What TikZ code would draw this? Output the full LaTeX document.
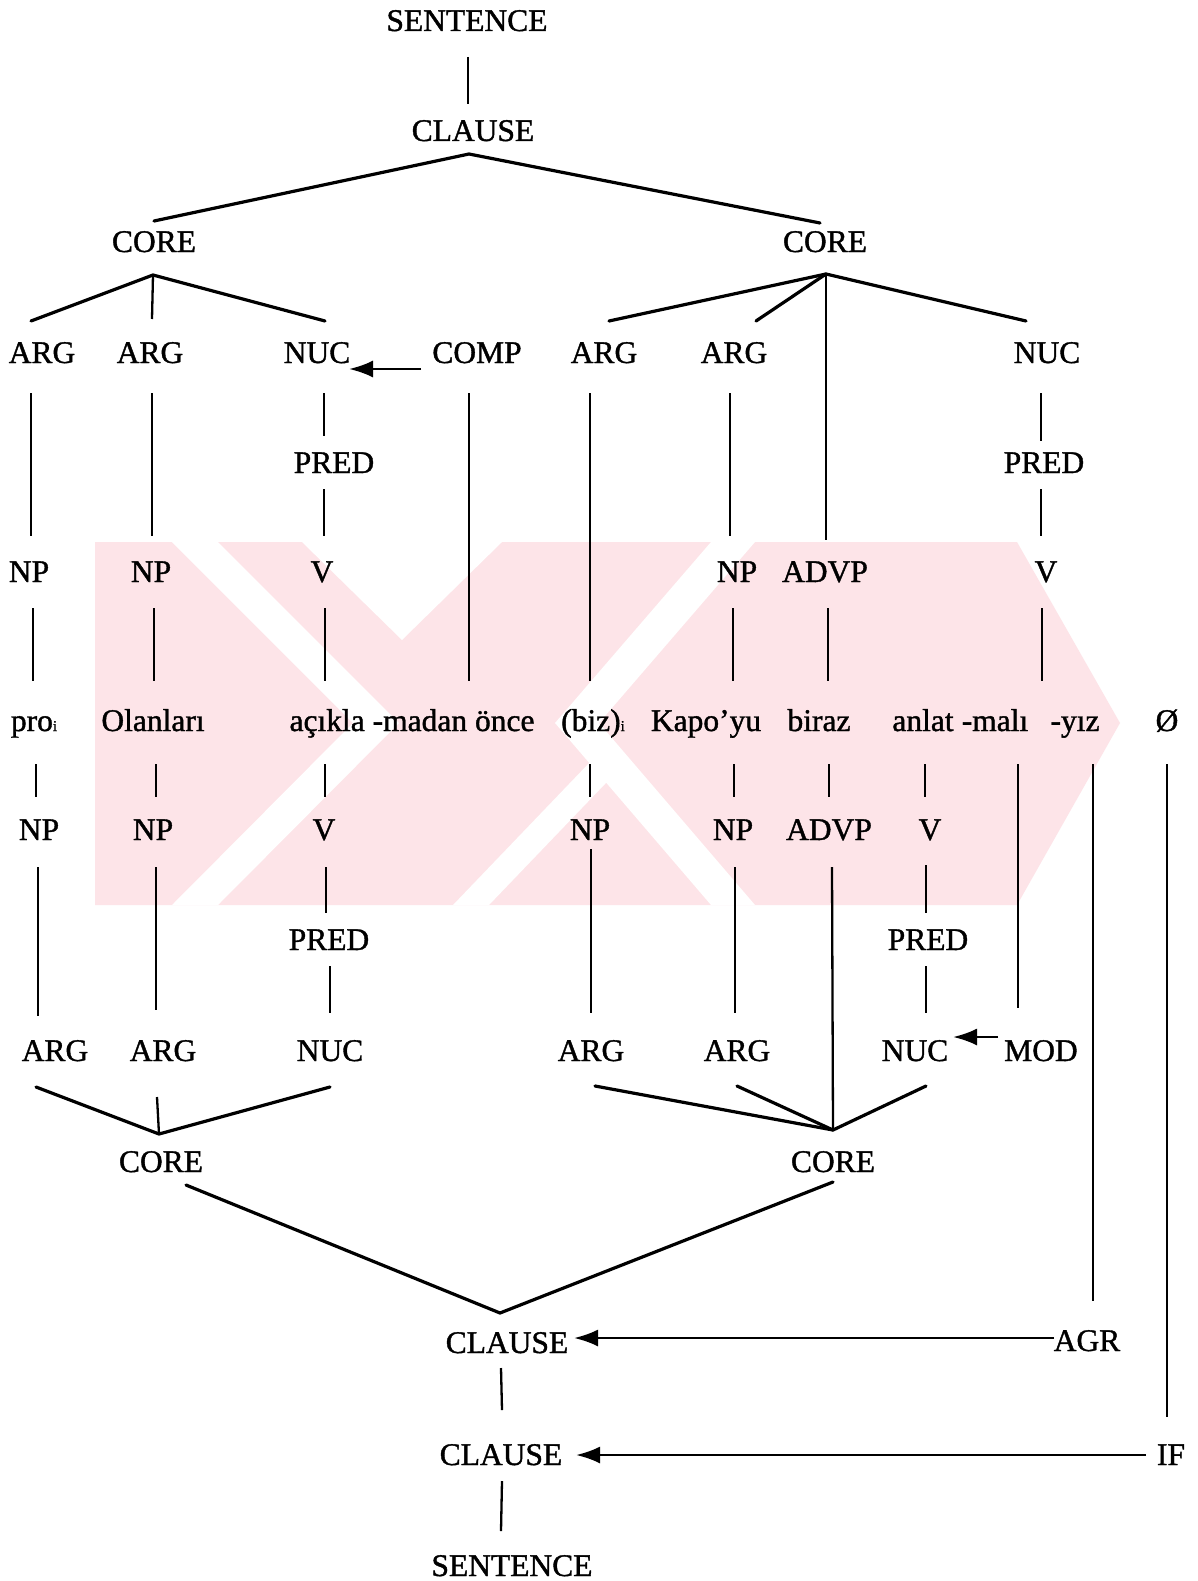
\documentclass[tikz,border=0pt]{standalone}
\usepackage{fontspec}
\setmainfont{Liberation Serif}
\usetikzlibrary{calc,arrows.meta}
\definecolor{wm}{RGB}{253,228,232}
\tikzset{
  lbl/.style={font=\fontsize{31.5}{36}\selectfont\addfontfeature{FakeBold=1.2}, inner sep=0pt, anchor=base},
  ln/.style={line width=2.3pt},
  br/.style={line width=3.2pt, line cap=round},
  arr/.style={line width=2.6pt, -{Latex[length=24pt,width=17pt]}},
}
\newcommand{\sbi}{{\fontsize{15}{15}\selectfont i}}
\begin{document}
\begin{tikzpicture}[x=1pt,y=-1pt]
\useasboundingbox (0,0) rectangle (1198,1581);
\fill[white] (0,0) rectangle (1198,1581);
% watermark
\fill[wm] (95,542) -- (1017,542) -- (1120,723) -- (1017,905) -- (95,905) -- cycle;
\fill[white] (172,542) -- (218,542) -- (399,723) -- (218,905) -- (172,905) -- (353,723) -- cycle;
\fill[white] (302,542) -- (502,542) -- (402,640) -- cycle;
\fill[white] (711,542) -- (755,542) -- (599,723) -- (755,905) -- (711,905) -- (555,723) -- cycle;
\fill[white] (453,905) -- (489,905) -- (628,760) -- (592,760) -- cycle;

% nodes
\node[lbl] (s1) at (467,31) {SENTENCE};
\node[lbl] (c1) at (473,141) {CLAUSE};
\node[lbl] (coreL) at (154,252) {CORE};
\node[lbl] (coreR) at (825,252) {CORE};
\node[lbl] (a1) at (42,363) {ARG};
\node[lbl] (a2) at (150,363) {ARG};
\node[lbl] (nucL) at (317,363) {NUC};
\node[lbl] (comp) at (477,363) {COMP};
\node[lbl] (a3) at (604,363) {ARG};
\node[lbl] (a4) at (734,363) {ARG};
\node[lbl] (nucR) at (1047,363) {NUC};
\node[lbl] (predL) at (334,473) {PRED};
\node[lbl] (predR) at (1044,473) {PRED};
\node[lbl] (np1) at (29,582) {NP};
\node[lbl] (np2) at (151,582) {NP};
\node[lbl] (v1) at (322,582) {V};
\node[lbl] (np3) at (737,582) {NP};
\node[lbl] (advp1) at (825,582) {ADVP};
\node[lbl] (v2) at (1046,582) {V};
\node[lbl] (pro) at (34,731) {pro\sbi};
\node[lbl] (olan) at (153,731) {Olanları};
\node[lbl] (acikla) at (412,731) {açıkla -madan önce};
\node[lbl] (biz) at (593,731) {(biz)\sbi};
\node[lbl] (kapo) at (706,731) {Kapo’yu};
\node[lbl] (biraz) at (819,731) {biraz};
\node[lbl] (anlat) at (923,731) {anlat};
\node[lbl] (mali) at (995,731) {-malı};
\node[lbl] (yiz) at (1075,731) {-yız};
\node[lbl] (null) at (1167,731) {Ø};
\node[lbl] (np4) at (39,840) {NP};
\node[lbl] (np5) at (153,840) {NP};
\node[lbl] (v3) at (324,840) {V};
\node[lbl] (np6) at (590,840) {NP};
\node[lbl] (np7) at (733,840) {NP};
\node[lbl] (advp2) at (829,840) {ADVP};
\node[lbl] (v4) at (930,840) {V};
\node[lbl] (predL2) at (329,950) {PRED};
\node[lbl] (predR2) at (928,950) {PRED};
\node[lbl] (a5) at (55,1061) {ARG};
\node[lbl] (a6) at (163,1061) {ARG};
\node[lbl] (nucL2) at (330,1061) {NUC};
\node[lbl] (a7) at (591,1061) {ARG};
\node[lbl] (a8) at (737,1061) {ARG};
\node[lbl] (nucR2) at (915,1061) {NUC};
\node[lbl] (mod) at (1041,1061) {MOD};
\node[lbl] (coreL2) at (161,1172) {CORE};
\node[lbl] (coreR2) at (833,1172) {CORE};
\node[lbl] (c2) at (507,1353) {CLAUSE};
\node[lbl] (agr) at (1087,1351) {AGR};
\node[lbl] (c3) at (501,1465) {CLAUSE};
\node[lbl] (if) at (1171,1465) {IF};
\node[lbl] (s2) at (512,1576) {SENTENCE};

% upper tree
\draw[ln] ($(s1.base)+(1,26)$) -- ($(c1.base)+(-5,-37)$);
\draw[br] ($(coreL.base)+(0,-31)$) -- ($(c1.base)+(-4,13)$) -- ($(coreR.base)+(-5,-29)$);
\draw[br] ($(a1.base)+(-11,-42)$) -- ($(coreL.base)+(-1,23)$) -- ($(nucL.base)+(8,-42)$);
\draw[ln] ($(coreL.base)+(-1,23)$) -- ($(a2.base)+(2,-44)$);
\draw[br] ($(a3.base)+(5,-42)$) -- ($(coreR.base)+(1,22)$) -- ($(nucR.base)+(-21,-42)$);
\draw[br] ($(coreR.base)+(1,22)$) -- ($(a4.base)+(22,-42)$);
\draw[ln] ($(coreR.base)+(1,22)$) -- ($(advp1.base)+(1,-42)$);
\draw[arr] ($(comp.base)+(-56,6)$) -- ($(nucL.base)+(32,6)$);

\draw[ln] ($(a1.base)+(-11,30)$) -- ($(np1.base)+(2,-46)$);
\draw[ln] ($(a2.base)+(2,30)$) -- ($(np2.base)+(1,-46)$);
\draw[ln] ($(nucL.base)+(7,30)$) -- ($(predL.base)+(-10,-37)$);
\draw[ln] ($(predL.base)+(-10,16)$) -- ($(v1.base)+(2,-46)$);
\draw[ln] ($(comp.base)+(-8,30)$) -- ($(acikla.base)+(57,-50)$);
\draw[ln] ($(a3.base)+(-14,30)$) -- ($(biz.base)+(-3,-50)$);
\draw[ln] ($(a4.base)+(-4,30)$) -- ($(np3.base)+(-7,-46)$);
\draw[ln] ($(nucR.base)+(-6,30)$) -- ($(predR.base)+(-3,-32)$);
\draw[ln] ($(predR.base)+(-3,16)$) -- ($(v2.base)+(-5,-46)$);

\draw[ln] ($(np1.base)+(4,26)$) -- ($(pro.base)+(-1,-50)$);
\draw[ln] ($(np2.base)+(3,26)$) -- ($(olan.base)+(1,-50)$);
\draw[ln] ($(v1.base)+(3,26)$) -- ($(acikla.base)+(-87,-50)$);
\draw[ln] ($(np3.base)+(-4,26)$) -- ($(kapo.base)+(27,-50)$);
\draw[ln] ($(advp1.base)+(3,26)$) -- ($(biraz.base)+(9,-50)$);
\draw[ln] ($(v2.base)+(-4,26)$) -- ($(mali.base)+(47,-50)$);

% lower tree
\draw[ln] ($(pro.base)+(2,33)$) -- ($(np4.base)+(-3,-43)$);
\draw[ln] ($(olan.base)+(3,33)$) -- ($(np5.base)+(3,-43)$);
\draw[ln] ($(acikla.base)+(-87,33)$) -- ($(v3.base)+(1,-43)$);
\draw[ln] ($(biz.base)+(-3,33)$) -- ($(np6.base)+(0,-43)$);
\draw[ln] ($(kapo.base)+(28,33)$) -- ($(np7.base)+(1,-43)$);
\draw[ln] ($(biraz.base)+(10,33)$) -- ($(advp2.base)+(0,-43)$);
\draw[ln] ($(anlat.base)+(2,33)$) -- ($(v4.base)+(-5,-43)$);
\draw[ln] ($(mali.base)+(23,33)$) -- ($(mod.base)+(-23,-53)$);
\draw[ln] ($(yiz.base)+(18,33)$) -- ($(agr.base)+(6,-50)$);
\draw[ln] ($(null.base)+(0,33)$) -- ($(if.base)+(-4,-48)$);

\draw[ln] ($(np4.base)+(-1,27)$) -- ($(a5.base)+(-17,-45)$);
\draw[ln] ($(np5.base)+(3,27)$) -- ($(a6.base)+(-7,-51)$);
\draw[ln] ($(v3.base)+(2,27)$) -- ($(predL2.base)+(-3,-37)$);
\draw[ln] ($(predL2.base)+(1,16)$) -- ($(nucL2.base)+(0,-48)$);
\draw[ln] ($(np6.base)+(1,9)$) -- ($(a7.base)+(0,-48)$);
\draw[ln] ($(np7.base)+(2,27)$) -- ($(a8.base)+(-2,-48)$);
\draw[ln] ($(advp2.base)+(3,27)$) -- ($(coreR2.base)+(0,-42)$);
\draw[ln] ($(v4.base)+(-4,25)$) -- ($(predR2.base)+(-2,-37)$);
\draw[ln] ($(predR2.base)+(-2,16)$) -- ($(nucR2.base)+(11,-48)$);
\draw[arr] ($(mod.base)+(-43,-24)$) -- ($(nucR2.base)+(38,-24)$);

\draw[br] ($(a5.base)+(-19,26)$) -- ($(coreL2.base)+(-2,-38)$) -- ($(nucL2.base)+(0,26)$);
\draw[ln] ($(a6.base)+(-6,36)$) -- ($(coreL2.base)+(-2,-38)$);
\draw[br] ($(a7.base)+(4,25)$) -- ($(coreR2.base)+(0,-42)$) -- ($(nucR2.base)+(11,25)$);
\draw[br] ($(a8.base)+(0,25)$) -- ($(coreR2.base)+(0,-42)$);

\draw[br] ($(coreL2.base)+(25,13)$) -- ($(c2.base)+(-7,-40)$) -- ($(coreR2.base)+(0,10)$);
\draw[ln] ($(c2.base)+(-6,15)$) -- ($(c3.base)+(1,-55)$);
\draw[ln] ($(c3.base)+(1,16)$) -- ($(s2.base)+(-11,-45)$);
\draw[arr] ($(agr.base)+(-33,-13)$) -- ($(c2.base)+(67,-15)$);
\draw[arr] ($(if.base)+(-25,-10)$) -- ($(c3.base)+(75,-10)$);
\end{tikzpicture}
\end{document}
